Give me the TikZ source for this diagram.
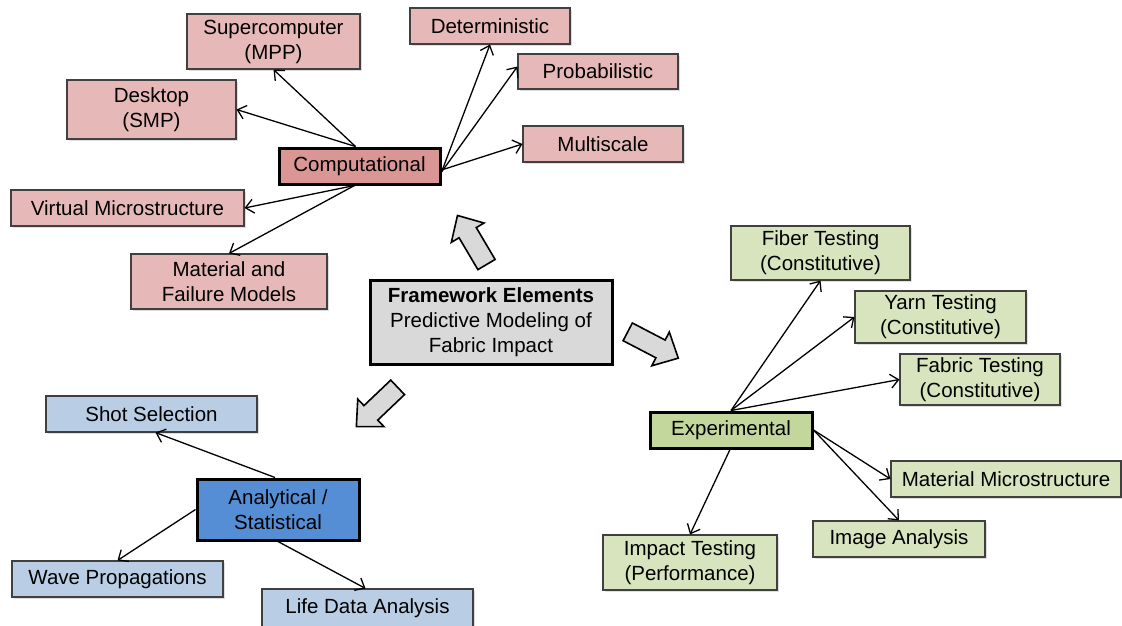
\documentclass[tikz,border=0pt]{standalone}
\usepackage{fontspec}
\setmainfont{Liberation Sans}
\usetikzlibrary{arrows.meta,shadows}
\definecolor{pinkf}{HTML}{E6B9B8}
\definecolor{pinkd}{HTML}{D99694}
\definecolor{bluef}{HTML}{B9CDE5}
\definecolor{blued}{HTML}{558ED5}
\definecolor{greenf}{HTML}{D7E4BD}
\definecolor{greend}{HTML}{C3D69B}
\definecolor{grayf}{HTML}{D9D9D9}
\definecolor{edge}{HTML}{404040}
\begin{document}
\begin{tikzpicture}[x=1pt,y=-1pt,
  box/.style={draw=edge, line width=1.1pt, align=center, inner sep=0pt,
    font=\fontsize{20.5}{25}\selectfont,
    drop shadow={shadow xshift=1.5pt, shadow yshift=-1.5pt, opacity=0.25}},
  hub/.style={box, draw=black, line width=3pt},
  pk/.style={box, fill=pinkf},
  bl/.style={box, fill=bluef},
  gr/.style={box, fill=greenf},
  conn/.style={line width=1.3pt, -{Straight Barb[length=8pt,width=14pt,line width=1.3pt]}},
  pics/blockarrow/.style={code={
    \draw[fill=grayf, line width=1.6pt, line join=miter]
      (-28.5,-10) -- (8.5,-10) -- (8.5,-19) -- (28.5,0) -- (8.5,19) -- (8.5,10) -- (-28.5,10) -- cycle;}}
]
\useasboundingbox (0,0) rectangle (1122,625);
\fill[white] (0,0) rectangle (1122,625);

% Computational group
\node[pk, minimum width=173, minimum height=55] (super) at (273.5,41.5) {Supercomputer\\(MPP)};
\node[pk, minimum width=160, minimum height=36] (determ) at (490,26) {Deterministic};
\node[pk, minimum width=160, minimum height=35] (prob) at (598,71.5) {Probabilistic};
\node[pk, minimum width=169, minimum height=59] (desk) at (151.5,109.5) {Desktop\\(SMP)};
\node[pk, minimum width=160, minimum height=36] (multi) at (603,144) {Multiscale};
\node[hub, fill=pinkd, minimum width=161, minimum height=36] (comp) at (359.5,166) {Computational};
\node[pk, minimum width=233, minimum height=36] (virt) at (127.5,208) {Virtual Microstructure};
\node[pk, minimum width=196, minimum height=55] (mat) at (229,281.5) {Material and\\Failure Models};

% Centre
\node[hub, fill=grayf, minimum width=242, minimum height=84] (frame) at (491,322)
  {\textbf{Framework Elements}\\Predictive Modeling of\\Fabric Impact};

% Experimental group
\node[gr, minimum width=179, minimum height=54] (fiber) at (820.5,253) {Fiber Testing\\(Constitutive)};
\node[gr, minimum width=171, minimum height=52] (yarn) at (940.5,317) {Yarn Testing\\(Constitutive)};
\node[gr, minimum width=160, minimum height=51] (fabric) at (980,379.5) {Fabric Testing\\(Constitutive)};
\node[hub, fill=greend, minimum width=162, minimum height=36] (exper) at (731,430) {Experimental};
\node[gr, minimum width=230, minimum height=36] (matmicro) at (1006,479) {Material Microstructure};
\node[gr, minimum width=172, minimum height=36] (image) at (899,539) {Image Analysis};
\node[gr, minimum width=174, minimum height=55] (impact) at (690,562.5) {Impact Testing\\(Performance)};

% Analytical group
\node[bl, minimum width=211, minimum height=36] (shot) at (151.5,414) {Shot Selection};
\node[hub, fill=blued, minimum width=162, minimum height=61] (analyt) at (278,509.5) {Analytical /\\Statistical};
\node[bl, minimum width=211, minimum height=36] (wave) at (117.5,579) {Wave Propagations};
\node[bl, minimum width=211, minimum height=38] (life) at (367.5,608) {Life Data Analysis};

% Block arrows
\pic[rotate=120.6] at (472,240) {blockarrow};
\pic[rotate=-27.5] at (653,345) {blockarrow};
\pic[rotate=223.6] at (377,407) {blockarrow};

% Connectors
\draw[conn] ([xshift=-4]comp.north) -- (super.south);
\draw[conn] ([xshift=-4]comp.north) -- (desk.east);
\draw[conn] ([yshift=-6]comp.east) -- (determ.south);
\draw[conn] ([yshift=-6]comp.east) -- ([yshift=5]prob.west);
\draw[conn] ([yshift=-4]comp.east) -- (multi.west);
\draw[conn] ([xshift=-5]comp.south) -- (virt.east);
\draw[conn] ([xshift=-5]comp.south) -- (mat.north);

\draw[conn] (exper.north) -- (fiber.south);
\draw[conn] (exper.north) -- (yarn.west);
\draw[conn] (exper.north) -- (fabric.west);
\draw[conn] (exper.east) -- (matmicro.west);
\draw[conn] (exper.east) -- (image.north);
\draw[conn] ([xshift=-1]exper.south) -- (impact.north);

\draw[conn] ([xshift=-3]analyt.north) -- ([xshift=4]shot.south);
\draw[conn] (analyt.west) -- (wave.north);
\draw[conn] (analyt.south) -- ([xshift=-2]life.north);
\end{tikzpicture}
\end{document}
